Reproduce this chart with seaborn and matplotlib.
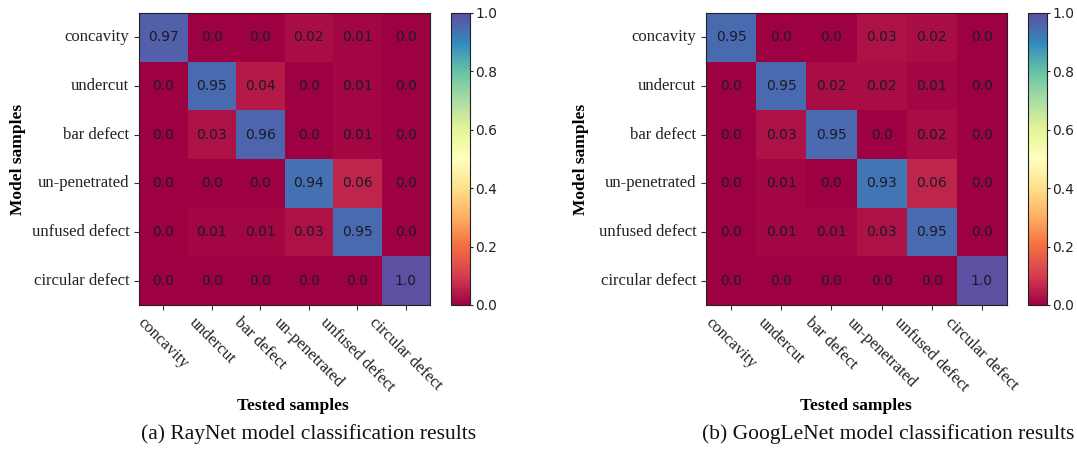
import numpy as np
import matplotlib
matplotlib.use("Agg")
import matplotlib.pyplot as plt
import seaborn as sns

classes = ["concavity", "undercut", "bar defect", "un-penetrated",
           "unfused defect", "circular defect"]

raynet = [
    [0.97, 0.0, 0.0, 0.02, 0.01, 0.0],
    [0.0, 0.95, 0.04, 0.0, 0.01, 0.0],
    [0.0, 0.03, 0.96, 0.0, 0.01, 0.0],
    [0.0, 0.0, 0.0, 0.94, 0.06, 0.0],
    [0.0, 0.01, 0.01, 0.03, 0.95, 0.0],
    [0.0, 0.0, 0.0, 0.0, 0.0, 1.0],
]

googlenet = [
    [0.95, 0.0, 0.0, 0.03, 0.02, 0.0],
    [0.0, 0.95, 0.02, 0.02, 0.01, 0.0],
    [0.0, 0.03, 0.95, 0.0, 0.02, 0.0],
    [0.0, 0.01, 0.0, 0.93, 0.06, 0.0],
    [0.0, 0.01, 0.01, 0.03, 0.95, 0.0],
    [0.0, 0.0, 0.0, 0.0, 0.0, 1.0],
]

captions = ["(a) RayNet model classification results",
            "(b) GoogLeNet model classification results"]

W, H = 1077, 455
fig = plt.figure(figsize=(W / 100, H / 100), dpi=100)

def fr(x0, y0, x1, y1):
    return [x0 / W, 1 - y1 / H, (x1 - x0) / W, (y1 - y0) / H]

serif = "Liberation Serif"

panels = [
    dict(data=raynet, ax=fr(139, 13, 430, 305), cax=fr(451, 13, 470, 305),
         xl=0.529, yl=-0.416, cap_x=309, cap=captions[0]),
    dict(data=googlenet, ax=fr(706, 13, 1007, 305), cax=fr(1028, 13, 1047, 305),
         xl=0.498, yl=-0.415, cap_x=888, cap=captions[1]),
]

for p in panels:
    ax = fig.add_axes(p["ax"])
    cax = fig.add_axes(p["cax"])
    arr = np.array(p["data"])
    labels = np.array([[str(round(v, 2)) for v in row] for row in p["data"]])
    sns.heatmap(arr, ax=ax, cbar_ax=cax, cmap="Spectral", vmin=0, vmax=1,
                annot=labels, fmt="", annot_kws={"fontsize": 10, "color": "#1a1a2a"},
                xticklabels=classes, yticklabels=classes, square=False)
    for s in ax.spines.values():
        s.set_visible(True)
        s.set_color("#222222")
        s.set_linewidth(0.8)
    ax.tick_params(axis="both", length=3.5, width=0.8, color="#333333")
    ax.set_xticklabels(classes, rotation=-45, ha="center", fontfamily=serif,
                       fontsize=12, color="#222222")
    ax.set_yticklabels(classes, rotation=0, fontfamily=serif, fontsize=12,
                       color="#222222")
    ax.set_xlabel("Tested samples", fontfamily=serif, fontweight="bold",
                  fontsize=12.5, va="center")
    ax.xaxis.set_label_coords(p["xl"], -0.346)
    ax.set_ylabel("Model samples", fontfamily=serif, fontweight="bold",
                  fontsize=12.5, va="center", ha="center")
    ax.yaxis.set_label_coords(p["yl"], 0.5)
    cb = ax.collections[0].colorbar
    cb.outline.set_visible(True)
    cb.outline.set_edgecolor("#222222")
    cb.outline.set_linewidth(0.8)
    cb.set_ticks([0.0, 0.2, 0.4, 0.6, 0.8, 1.0])
    cax.tick_params(labelsize=10, length=2.5, width=0.8, pad=1.5,
                    colors="#222222")
    fig.text(p["cap_x"] / W, 1 - 434 / H, p["cap"], ha="center", va="center",
             fontfamily=serif, fontsize=15.5, color="#111111")

fig.savefig("out.png", dpi=100, facecolor="white")
